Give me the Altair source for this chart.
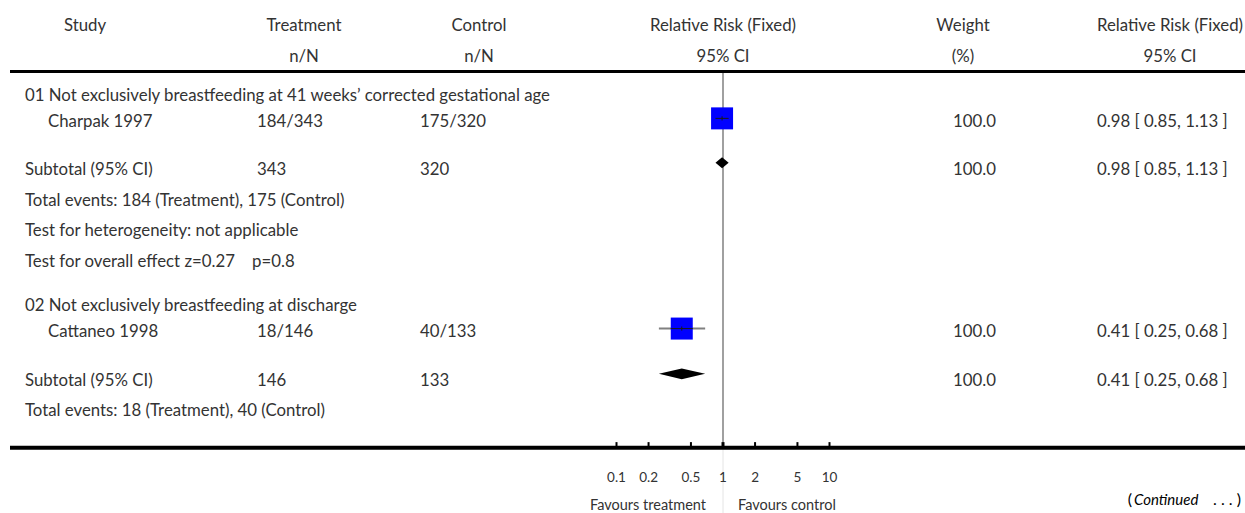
import altair as alt
import pandas as pd

FONT = "Lato"
TEXT_COLOR = "#333333"
FONT_SIZE = 16.8
AXIS_FONT_SIZE = 13.5
FAV_FONT_SIZE = 14.5
TEXT_DY = 2

# ---- column headers -------------------------------------------------------
header_top = ["Study", "Treatment", "Control", "Relative Risk (Fixed)", "Weight", "Relative Risk (Fixed)"]
header_sub = ["", "n/N", "n/N", "95% CI", "(%)", "95% CI"]

# ---- comparisons and trials ----------------------------------------------
groups = [
    "01 Not exclusively breastfeeding at 41 weeks’ corrected gestational age",
    "02 Not exclusively breastfeeding at discharge",
]
studies = ["Charpak 1997", "Cattaneo 1998"]
treat_events = [184, 18]
treat_total = [343, 146]
ctrl_events = [175, 40]
ctrl_total = [320, 133]
rr = [0.98, 0.41]
rr_lo = [0.85, 0.25]
rr_hi = [1.13, 0.68]
weights = [100.0, 100.0]

# pooled estimates (one trial per comparison)
sub_rr = [0.98, 0.41]
sub_lo = [0.85, 0.25]
sub_hi = [1.13, 0.68]
sub_weight = [100.0, 100.0]

heterogeneity_text = "Test for heterogeneity: not applicable"
overall_text = "Test for overall effect z=0.27\u00a0\u00a0\u00a0\u00a0p=0.8"

tick_values = [0.1, 0.2, 0.5, 1, 2, 5, 10]
tick_labels = ["0.1", "0.2", "0.5", "1", "2", "5", "10"]

# ---- vertical layout (row slots) ------------------------------------------
Y_SLOTS = {
    "head1": 0.755, "head2": 1.78, "top_rule": 2.33,
    "g1": 3.07, "s1": 3.93, "sub1": 5.52, "ev1": 6.55, "het1": 7.54, "ov1": 8.57,
    "g2": 10.03, "s2": 10.89, "sub2": 12.51, "ev2": 13.5,
    "tick_top": 14.6, "axis_rule": 14.79, "tick_lab": 15.72, "favours": 16.72,
    "continued": 16.5,
}
MARK_SHIFT = -0.05      # squares sit slightly above the text midline
DIAMOND_SHIFT = -0.17   # diamonds sit slightly above the text midline
DIAMOND_HALF = 0.18     # diamond half height in slots
TICK_HALF = 0.07        # point estimate tick half height in slots
SQUARE_PX = 22
PX_PER_DECADE = 106.5

yscale = alt.Scale(domain=[0, 17], range=[1.2, 514.6])
xscale = alt.Scale(type="log", domain=[0.1, 10], range=[616.5, 829.5])


def ci_text(m, lo, hi):
    return f"{m:.2f} [ {lo:.2f}, {hi:.2f} ]"


# ---- table rows -------------------------------------------------------------
rows = []
study_slots = [Y_SLOTS["s1"], Y_SLOTS["s2"]]
sub_slots = [Y_SLOTS["sub1"], Y_SLOTS["sub2"]]
group_slots = [Y_SLOTS["g1"], Y_SLOTS["g2"]]
event_slots = [Y_SLOTS["ev1"], Y_SLOTS["ev2"]]
for i in range(len(groups)):
    rows.append(dict(slot=group_slots[i], label=groups[i], study="", treat="", ctrl="", weight="", ci=""))
    rows.append(dict(slot=study_slots[i], label="", study=studies[i],
                     treat=f"{treat_events[i]}/{treat_total[i]}",
                     ctrl=f"{ctrl_events[i]}/{ctrl_total[i]}",
                     weight=f"{weights[i]:.1f}", ci=ci_text(rr[i], rr_lo[i], rr_hi[i])))
    rows.append(dict(slot=sub_slots[i], label="Subtotal (95% CI)", study="",
                     treat=str(treat_total[i]), ctrl=str(ctrl_total[i]),
                     weight=f"{sub_weight[i]:.1f}", ci=ci_text(sub_rr[i], sub_lo[i], sub_hi[i])))
    rows.append(dict(slot=event_slots[i],
                     label=f"Total events: {treat_events[i]} (Treatment), {ctrl_events[i]} (Control)",
                     study="", treat="", ctrl="", weight="", ci=""))
rows.append(dict(slot=Y_SLOTS["het1"], label=heterogeneity_text, study="", treat="", ctrl="", weight="", ci=""))
rows.append(dict(slot=Y_SLOTS["ov1"], label=overall_text, study="", treat="", ctrl="", weight="", ci=""))
rows_df = pd.DataFrame(rows)

head_df = pd.DataFrame({
    "col": list(range(len(header_top))) * 2,
    "slot": [Y_SLOTS["head1"]] * len(header_top) + [Y_SLOTS["head2"]] * len(header_sub),
    "text": header_top + header_sub,
})


def Y(f="slot"):
    return alt.Y(f"{f}:Q", scale=yscale, axis=None, stack=None)


def X(f):
    return alt.X(f"{f}:Q", scale=xscale, axis=None)


def text_layer(df, field, xpos, align="left", **kw):
    return alt.Chart(df).mark_text(
        align=align, baseline="middle", font=FONT, fontSize=FONT_SIZE, color=TEXT_COLOR,
        dy=TEXT_DY, **kw
    ).encode(x=alt.value(xpos), y=Y(), text=f"{field}:N")


table_cols = [("label", 25), ("study", 48), ("treat", 257), ("ctrl", 420), ("weight", 953), ("ci", 1097)]
table_layers = [text_layer(rows_df, f, xp) for f, xp in table_cols]

header_x = [85, 304, 479, 723, 963, 1170]
header_layers = [
    text_layer(head_df[head_df["col"] == c], "text", header_x[c], align="center")
    for c in range(len(header_top))
]

# ---- horizontal rules -----------------------------------------------------------
top_rule = alt.Chart(pd.DataFrame({"slot": [Y_SLOTS["top_rule"]]})).mark_rule(
    color="black", strokeWidth=3).encode(x=alt.value(10), x2=alt.value(1245), y=Y())
axis_rule = alt.Chart(pd.DataFrame({"slot": [Y_SLOTS["axis_rule"]]})).mark_rule(
    color="black", strokeWidth=4).encode(x=alt.value(10), x2=alt.value(1245), y=Y())

# ---- line of no effect ----------------------------------------------------------------
null_df = pd.DataFrame({"x": [1.0], "slot": [Y_SLOTS["top_rule"] + 0.05], "slot2": [Y_SLOTS["axis_rule"]]})
null_line = alt.Chart(null_df).mark_rule(color="#808080", strokeWidth=1.5).encode(
    x=X("x"), y=Y(), y2="slot2:Q")
null_df2 = pd.DataFrame({"x": [1.0], "slot": [Y_SLOTS["axis_rule"]], "slot2": [17.0]})
null_line_low = alt.Chart(null_df2).mark_rule(color="#e4e4e4", strokeWidth=1).encode(
    x=X("x"), y=Y(), y2="slot2:Q")

# ---- axis ticks and labels --------------------------------------------------------------
ticks_df = pd.DataFrame({
    "x": tick_values, "label": tick_labels,
    "slot": [Y_SLOTS["tick_top"]] * len(tick_values),
    "slot2": [Y_SLOTS["axis_rule"]] * len(tick_values),
    "lab_slot": [Y_SLOTS["tick_lab"]] * len(tick_values),
    "w": [3 if v == 1 else 2 for v in tick_values],
})
ticks = alt.Chart(ticks_df).mark_rule(color="black").encode(
    x=X("x"), y=Y(), y2="slot2:Q",
    strokeWidth=alt.StrokeWidth("w:Q", scale=None, legend=None))
tick_text = alt.Chart(ticks_df).mark_text(
    align="center", baseline="middle", font=FONT, fontSize=AXIS_FONT_SIZE, color=TEXT_COLOR, dy=2
).encode(x=X("x"), y=Y("lab_slot"), text="label:N")

fav_df = pd.DataFrame({"x": [1.0], "slot": [Y_SLOTS["favours"]]})
fav_left = alt.Chart(fav_df).mark_text(
    align="right", baseline="middle", font=FONT, fontSize=FAV_FONT_SIZE, color=TEXT_COLOR, dx=-17,
    text="Favours treatment").encode(x=X("x"), y=Y())
fav_right = alt.Chart(fav_df).mark_text(
    align="left", baseline="middle", font=FONT, fontSize=FAV_FONT_SIZE, color=TEXT_COLOR, dx=15,
    text="Favours control").encode(x=X("x"), y=Y())

cont_df = pd.DataFrame({"slot": [Y_SLOTS["continued"]]})
cont_open = alt.Chart(cont_df).mark_text(
    align="right", baseline="middle", font=FONT, fontSize=16, color="black", text="(").encode(
    x=alt.value(1132), y=Y())
cont_word = alt.Chart(cont_df).mark_text(
    align="left", baseline="middle", font=FONT, fontSize=15, color="black",
    fontStyle="italic", text="Continued").encode(x=alt.value(1134), y=Y())
cont_close = alt.Chart(cont_df).mark_text(
    align="right", baseline="middle", font=FONT, fontSize=16, color="black",
    text=".\u00a0.\u00a0.\u00a0)").encode(x=alt.value(1241), y=Y())

# ---- trial estimates: CI lines and weighted squares ---------------------------------------
half = 10 ** (SQUARE_PX / 2 / PX_PER_DECADE)
est_df = pd.DataFrame({
    "study": studies, "rr": rr, "lo": rr_lo, "hi": rr_hi,
    "slot": [s + MARK_SHIFT for s in study_slots],
})
est_df["in_lo"] = [max(l, m / half) for l, m in zip(rr_lo, rr)]
est_df["in_hi"] = [min(h, m * half) for h, m in zip(rr_hi, rr)]
est_df["t1"] = est_df["slot"] - TICK_HALF
est_df["t2"] = est_df["slot"] + TICK_HALF

ci_lines = alt.Chart(est_df).mark_rule(color="#808080", strokeWidth=2).encode(
    x=X("lo"), x2="hi:Q", y=Y())
squares = alt.Chart(est_df).mark_square(
    size=SQUARE_PX * SQUARE_PX, color="#0000ff", opacity=1, strokeWidth=0).encode(
    x=X("rr"), y=Y())
inner_lines = alt.Chart(est_df).mark_rule(color="#1a1a1a", strokeWidth=1).encode(
    x=X("in_lo"), x2="in_hi:Q", y=Y())
point_ticks = alt.Chart(est_df).mark_rule(color="#1a1a1a", strokeWidth=1).encode(
    x=X("rr"), y=Y("t1"), y2="t2:Q")

# ---- pooled estimates: one diamond per comparison ----------------------------------------
diamond_layers = []
for i in range(len(groups)):
    c = sub_slots[i] + DIAMOND_SHIFT
    d = pd.DataFrame({
        "x": [sub_lo[i], sub_rr[i], sub_hi[i]],
        "y": [c, c - DIAMOND_HALF, c],
        "y2": [c, c + DIAMOND_HALF, c],
    })
    diamond_layers.append(
        alt.Chart(d).mark_area(color="black", opacity=1, interpolate="linear").encode(
            x=X("x"), y=Y("y"), y2="y2:Q")
    )

chart = alt.layer(
    null_line_low, null_line, top_rule, axis_rule, ticks, tick_text, fav_left, fav_right,
    cont_open, cont_word, cont_close,
    ci_lines, squares, inner_lines, point_ticks, *diamond_layers,
    *header_layers, *table_layers,
).properties(
    width=1245, height=513, autosize="none", padding=0,
).configure_view(stroke=None)

chart.save("out.html", embed_options={"renderer": "svg", "actions": False})
